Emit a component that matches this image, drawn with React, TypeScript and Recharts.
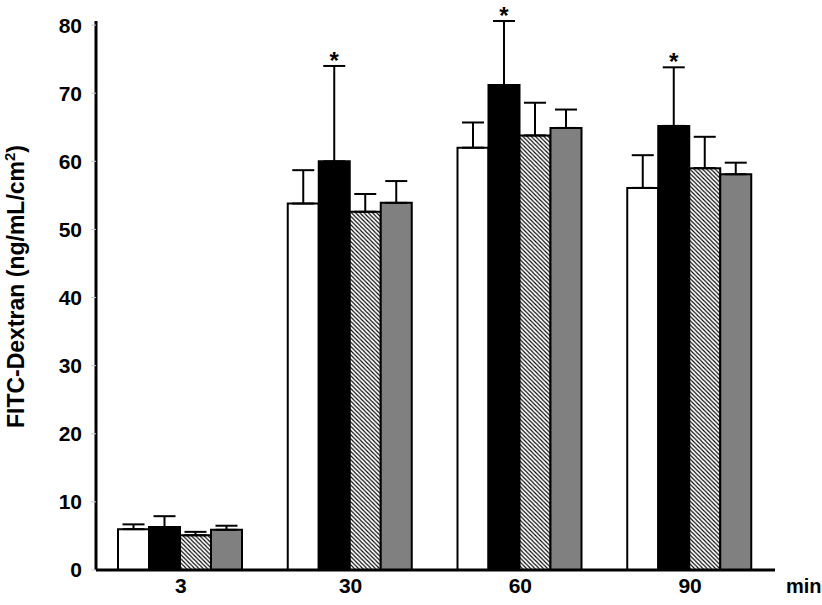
import React from "react";
import {
  BarChart,
  Bar,
  XAxis,
  YAxis,
  ErrorBar,
  LabelList,
} from "recharts";

// time points (min)
const categories = ["3", "30", "60", "90"];

// means per group
const whiteMean = [6.0, 53.8, 62.0, 56.1];
const blackMean = [6.3, 60.0, 71.2, 65.2];
const hatchMean = [5.1, 52.6, 63.8, 59.0];
const grayMean = [5.9, 53.9, 64.9, 58.1];

// upper error (SD)
const whiteSd = [0.7, 4.9, 3.7, 4.8];
const blackSd = [1.6, 14.0, 9.4, 8.6];
const hatchSd = [0.5, 2.6, 4.8, 4.6];
const graySd = [0.6, 3.2, 2.7, 1.7];

// significance marks on the black group
const stars = ["", "*", "*", "*"];

const yTicks = [0, 10, 20, 30, 40, 50, 60, 70, 80];

const data = categories.map((c, i) => ({
  time: c,
  white: whiteMean[i],
  black: blackMean[i],
  hatch: hatchMean[i],
  gray: grayMean[i],
  whiteErr: [0, whiteSd[i]],
  blackErr: [0, blackSd[i]],
  hatchErr: [0, hatchSd[i]],
  grayErr: [0, graySd[i]],
  star: stars[i],
}));

const FONT = "Arial, 'Liberation Sans', sans-serif";

const StarLabel = (props: any) => {
  const { x, y, width, height, index } = props;
  const mark = stars[index];
  if (!mark) return null;
  // pixels per unit from the bar itself
  const ppu = height / blackMean[index];
  const top = y - blackSd[index] * ppu;
  return (
    <text
      x={x + width / 2}
      y={top + 3}
      textAnchor="middle"
      fontFamily={FONT}
      fontSize={24}
      fontWeight="bold"
      fill="#000"
    >
      {mark}
    </text>
  );
};

export default function App() {
  return (
    <div style={{ position: "absolute", left: 0, top: 0, background: "#fff" }}>
      <BarChart
        width={822}
        height={605}
        data={data}
        margin={{ top: 21, right: 47, bottom: 5, left: 0 }}
        barCategoryGap={22}
        barGap={0}
      >
        <defs>
          <pattern
            id="hatch"
            patternUnits="userSpaceOnUse"
            width={4.2}
            height={4.2}
          >
            <rect width={4.2} height={4.2} fill="#fff" />
            <path
              d="M-1,-1 L5.2,5.2 M3.2,-1 L5.2,1 M-1,3.2 L1,5.2"
              stroke="#000"
              strokeWidth={1.1}
            />
          </pattern>
        </defs>
        <XAxis
          dataKey="time"
          height={30}
          axisLine={{ stroke: "#000", strokeWidth: 3 }}
          tickLine={false}
          tick={{ fill: "#000", fontSize: 21, fontWeight: "bold", fontFamily: FONT }}
          label={{
            content: (p: any) => {
              const vb = p.viewBox;
              return (
                <text
                  x={vb.x + vb.width + 11}
                  y={vb.y + 23}
                  fontFamily={FONT}
                  fontSize={20}
                  fontWeight="bold"
                  fill="#000"
                >
                  min
                </text>
              );
            },
          }}
        />
        <YAxis
          width={96}
          domain={() => [0, 80]}
          ticks={yTicks}
          interval={0}
          axisLine={{ stroke: "#000", strokeWidth: 3 }}
          tickLine={{ stroke: "#ccc" }}
          tickSize={5}
          tickMargin={9}
          tick={{ fill: "#000", fontSize: 21, fontWeight: "bold", fontFamily: FONT }}
          label={{
            content: (p: any) => {
              const vb = p.viewBox;
              const cx = 16;
              const cy = vb.y + vb.height / 2 - 9;
              return (
                <text
                  x={cx}
                  y={cy}
                  transform={`rotate(-90, ${cx}, ${cy})`}
                  textAnchor="middle"
                  dominantBaseline="central"
                  fontFamily={FONT}
                  fontSize={23}
                  fontWeight="bold"
                  fill="#000"
                >
                  FITC-Dextran (ng/mL/cm
                  <tspan dy={-7} fontSize={15}>2</tspan>
                  <tspan dy={7}>)</tspan>
                </text>
              );
            },
          }}
        />
        <Bar dataKey="white" fill="#fff" stroke="#000" strokeWidth={2} isAnimationActive={false}>
          <ErrorBar dataKey="whiteErr" width={11} stroke="#000" strokeWidth={2} direction="y" />
        </Bar>
        <Bar dataKey="black" fill="#000" stroke="#000" strokeWidth={2} isAnimationActive={false}>
          <ErrorBar dataKey="blackErr" width={11} stroke="#000" strokeWidth={2} direction="y" />
          <LabelList dataKey="star" content={StarLabel} />
        </Bar>
        <Bar dataKey="hatch" fill="url(#hatch)" stroke="#000" strokeWidth={2} isAnimationActive={false}>
          <ErrorBar dataKey="hatchErr" width={11} stroke="#000" strokeWidth={2} direction="y" />
        </Bar>
        <Bar dataKey="gray" fill="#808080" stroke="#000" strokeWidth={2} isAnimationActive={false}>
          <ErrorBar dataKey="grayErr" width={11} stroke="#000" strokeWidth={2} direction="y" />
        </Bar>
      </BarChart>
    </div>
  );
}
